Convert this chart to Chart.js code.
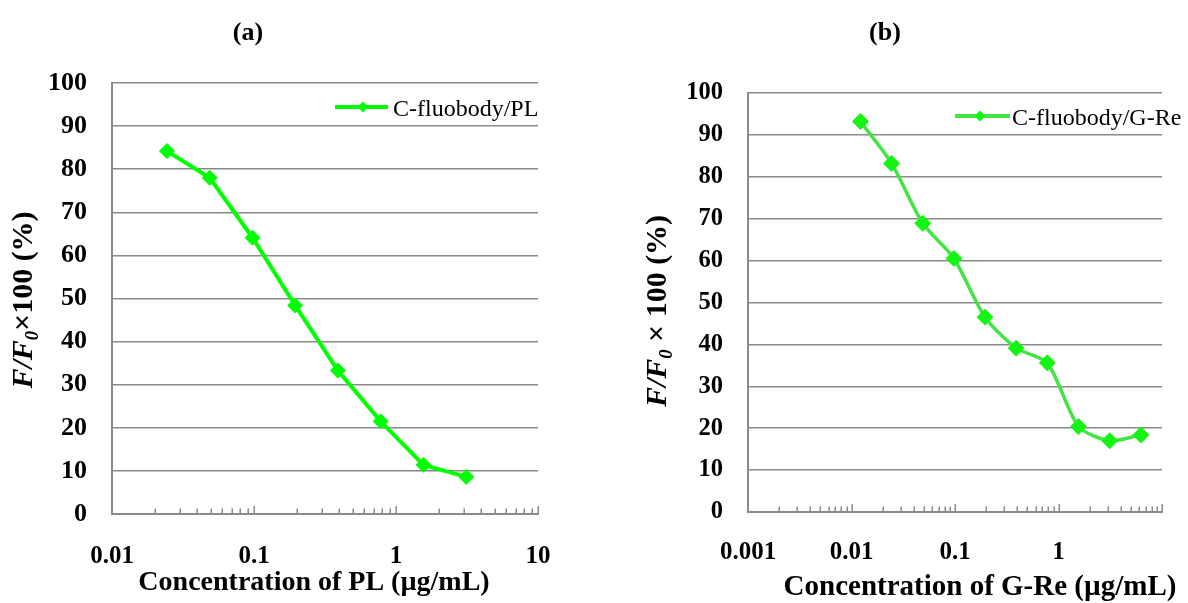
<!DOCTYPE html>
<html><head><meta charset="utf-8">
<script src="https://cdn.jsdelivr.net/npm/chart.js@4.4.1/dist/chart.umd.min.js"></script>
<style>
html,body{margin:0;padding:0;background:#fff;}
#wrap{position:relative;width:1188px;height:603px;overflow:hidden;}
canvas{position:absolute;top:0;}
</style></head><body>
<div id="wrap">
<canvas id="ca" width="594" height="603" style="left:0px"></canvas>
<canvas id="cb" width="594" height="603" style="left:594px"></canvas>
</div>
<script>
// ---- data ----
const concA = [0.0244, 0.0488, 0.0977, 0.195, 0.39, 0.78, 1.5625, 3.125];
const ratioA = [84.2, 78.0, 64.1, 48.4, 33.3, 21.5, 11.4, 8.6];
const concB = [0.0122, 0.0244, 0.0488, 0.0977, 0.195, 0.39, 0.78, 1.5625, 3.125, 6.25];
const ratioB = [93.2, 83.2, 68.9, 60.5, 46.5, 39.1, 35.6, 20.4, 17.0, 18.4];
const xLabelsA = ['0.01', '0.1', '1', '10'];
const xLabelsB = ['0.001', '0.01', '0.1', '1'];
const yTicks = [0, 10, 20, 30, 40, 50, 60, 70, 80, 90, 100];
const seriesA = 'C-fluobody/PL';
const seriesB = 'C-fluobody/G-Re';
const xTitleA = 'Concentration of PL (µg/mL)';
const xTitleB = 'Concentration of G-Re (µg/mL)';

const SERIF = '"Liberation Serif", "Times New Roman", serif';
const GRID = '#8a8a8a';

function isPow10(v) { const l = Math.log10(v); return Math.abs(l - Math.round(l)) < 1e-9; }

function logTicks(s) {
  const t = [];
  const e0 = Math.round(Math.log10(s.min)), e1 = Math.round(Math.log10(s.max));
  for (let e = e0; e < e1; e++) for (let k = 1; k < 10; k++) t.push({ value: +(k * Math.pow(10, e)).toPrecision(8) });
  t.push({ value: s.max });
  s.ticks = t;
}

const innerTicks = {
  id: 'innerTicks',
  beforeDatasetsDraw(chart) {
    const x = chart.scales.x, ctx = chart.ctx, y0 = chart.chartArea.bottom;
    ctx.save(); ctx.strokeStyle = GRID; ctx.lineWidth = 1.5;
    x.ticks.forEach(t => {
      const px = Math.round(x.getPixelForValue(t.value)) + 0.25;
      const len = isPow10(t.value) ? 8 : 5.5;
      ctx.beginPath(); ctx.moveTo(px, y0); ctx.lineTo(px, y0 - len); ctx.stroke();
    });
    ctx.restore();
  }
};

const decor = {
  id: 'decor',
  afterDraw(chart, args, o) {
    const ctx = chart.ctx, ds = chart.data.datasets[0];
    ctx.save();
    // panel title
    ctx.fillStyle = '#000';
    ctx.font = 'bold 26px ' + SERIF;
    ctx.textAlign = 'center'; ctx.textBaseline = 'alphabetic';
    ctx.fillText(o.panel, o.panelX, o.panelY);
    // x axis title
    ctx.font = 'bold ' + o.xtSize + 'px ' + SERIF;
    ctx.textBaseline = 'middle';
    ctx.fillText(o.xTitle, o.xtX, o.xtY);
    ctx.textBaseline = 'alphabetic';
    // legend
    ctx.strokeStyle = ds.borderColor; ctx.lineWidth = o.legLine;
    ctx.beginPath(); ctx.moveTo(o.lx0, o.ly); ctx.lineTo(o.lx1, o.ly); ctx.stroke();
    const r = 5.5;
    ctx.fillStyle = ds.pointBackgroundColor;
    ctx.beginPath(); ctx.moveTo(o.lxm - r, o.ly); ctx.lineTo(o.lxm, o.ly - r); ctx.lineTo(o.lxm + r, o.ly); ctx.lineTo(o.lxm, o.ly + r); ctx.closePath(); ctx.fill();
    ctx.fillStyle = '#000'; ctx.font = '24px ' + SERIF; ctx.textAlign = 'left';
    ctx.fillText(ds.label, o.tx, o.tBase);
    // rotated y title with rich text
    const size = o.ySize;
    const segs = o.ySegs.map(s => Object.assign({}, s));
    const fontFor = s => (s.i ? 'italic ' : '') + 'bold ' + (s.sub ? size * 0.62 : size) + 'px ' + SERIF;
    let total = 0;
    segs.forEach(s => { ctx.font = fontFor(s); s.w = ctx.measureText(s.t).width; total += s.w; });
    ctx.translate(o.yBase, o.yCenter); ctx.rotate(-Math.PI / 2);
    let x = -total / 2;
    segs.forEach(s => { ctx.font = fontFor(s); ctx.fillText(s.t, x, s.sub ? size * 0.2 : 0); x += s.w; });
    ctx.restore();
  }
};

function makeChart(id, conc, ratio, label, labels, xTitle, cfg) {
  cfg.decor.xTitle = xTitle;
  return new Chart(document.getElementById(id), {
    type: 'line',
    data: {
      datasets: [{
        label: label,
        data: conc.map((c, i) => ({ x: c, y: ratio[i] })),
        borderColor: cfg.lineColor,
        borderWidth: cfg.lineWidth,
        pointStyle: 'rectRot',
        pointRadius: cfg.pr,
        pointBackgroundColor: cfg.pointColor,
        pointBorderColor: cfg.pointColor,
        pointBorderWidth: 1,
        tension: cfg.tension,
        clip: false
      }]
    },
    options: {
      responsive: false, animation: false, devicePixelRatio: 1,
      layout: { padding: { left: 0, top: cfg.top, right: cfg.right, bottom: 0 } },
      plugins: {
        legend: { display: false }, tooltip: { enabled: false },
        decor: cfg.decor
      },
      scales: {
        x: {
          type: 'logarithmic', min: cfg.xmin, max: 10,
          afterBuildTicks: logTicks,
          afterFit: s => { s.height = cfg.xh; },
          grid: { display: false, drawTicks: false },
          border: { display: true, color: GRID, width: 2 },
          ticks: {
            autoSkip: false, maxRotation: 0, padding: cfg.xpad, color: '#000',
            font: { family: SERIF, size: 25, weight: 'bold' },
            callback: v => { const l = labels.find(s => Math.abs(Number(s) - v) < v * 1e-6); return l === undefined ? '' : l; }
          },
          title: { display: false, text: xTitle }
        },
        y: {
          min: 0, max: 100,
          afterBuildTicks: s => { s.ticks = yTicks.map(v => ({ value: v })); },
          afterFit: s => { s.width = cfg.yw; },
          grid: { color: GRID, lineWidth: 1.5, drawTicks: false },
          border: { display: true, color: GRID, width: 2 },
          ticks: { padding: 25, color: '#000', font: { family: SERIF, size: cfg.ytSize, weight: 'bold' } }
        }
      }
    },
    plugins: [innerTicks, decor]
  });
}

makeChart('ca', concA, ratioA, seriesA, xLabelsA, xTitleA, {
  lineColor: '#00ff00', pointColor: '#00ff00', lineWidth: 4, pr: 7.5, tension: 0,
  top: 83, right: 56, xmin: 0.01, xh: 89, xpad: 28, yw: 112, ytSize: 26,
  decor: {
    panel: '(a)', panelX: 248, panelY: 40,
    xtSize: 28, xtX: 314, xtY: 583,
    legLine: 4, lx0: 335, lx1: 388, lxm: 363, ly: 107, tx: 393, tBase: 116,
    ySize: 30, yBase: 32, yCenter: 300,
    ySegs: [{ t: 'F/F', i: true }, { t: '0', i: true, sub: true }, { t: '×100 (%)' }]
  }
});

makeChart('cb', concB, ratioB, seriesB, xLabelsB, xTitleB, {
  lineColor: '#44e444', pointColor: '#14f514', lineWidth: 3.5, pr: 8, tension: 0.25,
  top: 93, right: 6, xmin: 0.001, xh: 91, xpad: 26, yw: 154, ytSize: 24.5,
  decor: {
    panel: '(b)', panelX: 885 - 594, panelY: 40,
    xtSize: 29, xtX: 980 - 594, xtY: 588,
    legLine: 4, lx0: 955 - 594, lx1: 1010 - 594, lxm: 980 - 594, ly: 116, tx: 1012 - 594, tBase: 125,
    ySize: 30, yBase: 666 - 594, yCenter: 311,
    ySegs: [{ t: 'F/F', i: true }, { t: '0', i: true, sub: true }, { t: ' × 100 (%)' }]
  }
});
</script>
</body></html>
